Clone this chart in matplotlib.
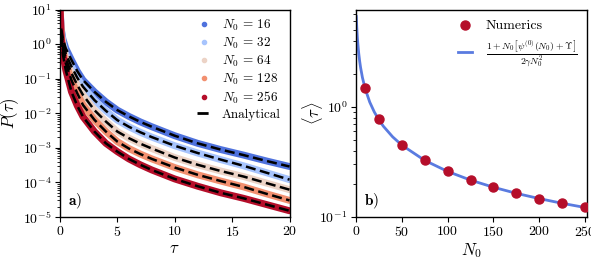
import numpy as np
import matplotlib
matplotlib.use("Agg")
import matplotlib.pyplot as plt
from matplotlib.lines import Line2D

plt.rcParams['font.family'] = 'serif'
plt.rcParams['font.serif'] = ['cmr10']
plt.rcParams['mathtext.fontset'] = 'cm'
plt.rcParams['axes.formatter.use_mathtext'] = True
plt.rcParams['axes.unicode_minus'] = False

# ---------------- data: panel a ----------------
tau = [0.02, 0.1, 0.25, 0.5, 1, 1.5, 2, 3, 4, 5, 6, 7, 8, 10, 12, 14, 16, 18, 20]
N0_list = [16, 32, 64, 128, 256]
logP_16 = [0.95, 0.45, 0.15, -0.12, -0.46, -0.78, -1.04, -1.38, -1.67, -1.91, -2.09, -2.25, -2.39, -2.65, -2.87, -3.05, -3.21, -3.38, -3.54]
logP_32 = [0.95, 0.40, 0.05, -0.28, -0.65, -0.97, -1.23, -1.62, -1.93, -2.20, -2.39, -2.55, -2.69, -2.94, -3.15, -3.34, -3.52, -3.72, -3.92]
logP_64 = [0.95, 0.35, -0.05, -0.42, -0.84, -1.18, -1.47, -1.91, -2.24, -2.53, -2.72, -2.88, -3.02, -3.28, -3.49, -3.67, -3.83, -4.02, -4.21]
logP_128 = [0.95, 0.30, -0.15, -0.55, -1.04, -1.42, -1.76, -2.19, -2.53, -2.82, -3.02, -3.18, -3.32, -3.57, -3.78, -3.96, -4.13, -4.33, -4.52]
logP_256 = [0.95, 0.20, -0.30, -0.75, -1.38, -1.78, -2.10, -2.53, -2.87, -3.11, -3.32, -3.49, -3.64, -3.90, -4.11, -4.30, -4.46, -4.64, -4.82]
series_a = [logP_16, logP_32, logP_64, logP_128, logP_256]
colors_a = ['#4f72dd', '#a7c4fd', '#ecd3c6', '#f29070', '#b50e2a']

# ---------------- data: panel b ----------------
N0_num = [10, 25, 50, 75, 100, 125, 150, 175, 200, 225, 250]
tau_num = [1.48, 0.770, 0.452, 0.328, 0.260, 0.217, 0.187, 0.165, 0.147, 0.134, 0.122]
N0_line = [0.35, 0.5, 0.75, 1, 1.5, 2, 3, 4, 5, 7, 10, 15, 20, 25, 30, 40, 50, 75, 100, 125, 150, 175, 200, 225, 250, 253]
tau_line = [6.62, 6.14, 5.50, 5.00, 4.27, 3.75, 3.056, 2.604, 2.283, 1.852, 1.4645, 1.106, 0.8994, 0.7632,
            0.6658, 0.5348, 0.4499, 0.3268, 0.2594, 0.2164, 0.1864, 0.1641, 0.1470, 0.1332, 0.1220, 0.1208]

fig = plt.figure(figsize=(5.91, 2.61), dpi=100)
ax1 = fig.add_axes([60/591, 44/261, 229.5/591, 207.5/261])
ax2 = fig.add_axes([356/591, 44/261, 231.3/591, 207/261])

DASH = (4.0, 1.8)
for N0, lp, c in zip(N0_list, series_a, colors_a):
    p = 10.0 ** np.array(lp)
    ax1.plot(tau, p, color=c, lw=5, solid_capstyle='round', zorder=2)
for N0, lp, c in zip(N0_list, series_a, colors_a):
    p = 10.0 ** np.array(lp)
    ax1.plot(tau[1:], p[1:], color='black', lw=1.8, dashes=DASH, zorder=3)

ax1.set_yscale('log')
ax1.set_xlim(0, 20)
ax1.set_ylim(1e-5, 10)
ax1.set_xticks([0, 5, 10, 15, 20])
ax1.set_xlabel(r'$\tau$', fontsize=12, labelpad=1)
ax1.set_ylabel(r'$P(\tau)$', fontsize=12)
ax1.yaxis.set_label_coords(-0.168, 0.5)
ax1.text(0.035, 0.055, r'$\mathbf{a)}$', transform=ax1.transAxes, fontsize=11)

handles = [Line2D([], [], ls='', marker='o', ms=3, color=c, label=r'$N_0\,=\,%d$' % n)
           for n, c in zip(N0_list, colors_a)]
handles.append(Line2D([], [], color='black', lw=2, dashes=DASH, label='Analytical'))
ax1.legend(handles=handles, loc='upper right', frameon=False, fontsize=9.5,
           handlelength=1.0, handletextpad=0.9, labelspacing=0.2, borderaxespad=0.3,
           borderpad=0.35)

ax2.plot(N0_line, tau_line, color='#5a7be0', lw=2,
         label=r'$\frac{1+N_0\left[\psi^{(0)}(N_0)+\Upsilon\right]}{2\gamma N_0^2}$', zorder=2)
ax2.plot(N0_num, tau_num, ls='', marker='o', ms=6.5, color='#b50e2a', label='Numerics', zorder=3)
ax2.set_yscale('log')
ax2.set_xlim(0, 252.5)
ax2.set_ylim(0.1, 7.6)
ax2.set_xticks([0, 50, 100, 150, 200, 250])
ax2.set_xlabel(r'$N_0$', fontsize=12, labelpad=1)
ax2.set_ylabel(r'$\langle\tau\rangle$', fontsize=12)
ax2.yaxis.set_label_coords(-0.135, 0.5)
ax2.text(0.035, 0.055, r'$\mathbf{b)}$', transform=ax2.transAxes, fontsize=11)
h, l = ax2.get_legend_handles_labels()
ax2.legend([h[1], h[0]], [l[1], l[0]], loc='upper right', frameon=False, fontsize=10,
           handlelength=1.0, handletextpad=1.0, labelspacing=0.4, borderaxespad=0.3)

for ax in (ax1, ax2):
    ax.tick_params(labelsize=10, pad=2.5)
    for s in ax.spines.values():
        s.set_linewidth(1.0)

fig.savefig('out.png', dpi=100)
